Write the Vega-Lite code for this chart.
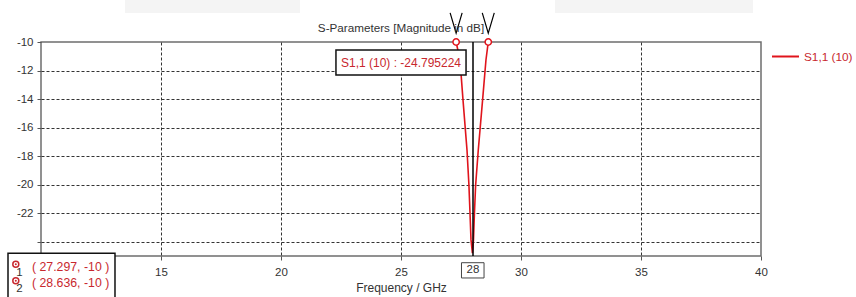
{
  "$schema": "https://vega.github.io/schema/vega-lite/v6.json",
  "width": 720,
  "height": 214,
  "autosize": "none",
  "padding": {"left": 41, "top": 42, "right": 95, "bottom": 41},
  "background": "white",
  "config": {
    "font": "Liberation Sans",
    "view": {"stroke": "#6e6e6e", "strokeWidth": 1.5},
    "axis": {
      "domain": false,
      "gridColor": "#333333",
      "gridDash": [3, 2],
      "gridWidth": 1,
      "tickColor": "#555555",
      "tickSize": 4,
      "labelColor": "#333333",
      "labelFontSize": 11.5,
      "labelOverlap": false,
      "labelFlush": false,
      "titleColor": "#333333",
      "titleFontSize": 12,
      "titleFontWeight": "normal"
    },
    "legend": {
      "orient": "right",
      "offset": 10,
      "padding": 0,
      "symbolType": "stroke",
      "symbolSize": 729,
      "symbolStrokeWidth": 2,
      "labelColor": "#c8282e",
      "labelFontSize": 11.8,
      "labelOffset": 4
    }
  },
  "datasets": {
    "curve": [
      {"f": 27.2, "db": -9.3, "s": "S1,1 (10)"},
      {"f": 27.297, "db": -10, "s": "S1,1 (10)"},
      {"f": 27.458, "db": -11.26, "s": "S1,1 (10)"},
      {"f": 27.583, "db": -14.06, "s": "S1,1 (10)"},
      {"f": 27.75, "db": -17.57, "s": "S1,1 (10)"},
      {"f": 27.83, "db": -20.02, "s": "S1,1 (10)"},
      {"f": 27.875, "db": -21.98, "s": "S1,1 (10)"},
      {"f": 27.917, "db": -23.87, "s": "S1,1 (10)"},
      {"f": 27.975, "db": -24.795, "s": "S1,1 (10)"},
      {"f": 28.02, "db": -23.87, "s": "S1,1 (10)"},
      {"f": 28.06, "db": -21.98, "s": "S1,1 (10)"},
      {"f": 28.11, "db": -20.02, "s": "S1,1 (10)"},
      {"f": 28.22, "db": -17.57, "s": "S1,1 (10)"},
      {"f": 28.4, "db": -14.06, "s": "S1,1 (10)"},
      {"f": 28.54, "db": -11.26, "s": "S1,1 (10)"},
      {"f": 28.636, "db": -10, "s": "S1,1 (10)"},
      {"f": 28.72, "db": -9.3, "s": "S1,1 (10)"}
    ],
    "markers": [
      {"f": 27.297, "db": -10, "vy": -8.67},
      {"f": 28.636, "db": -10, "vy": -8.67}
    ],
    "greybars": [
      {"x1": 13.5, "x2": 20.79, "y1": -7.0, "y2": -7.97},
      {"x1": 31.42, "x2": 39.67, "y1": -7.0, "y2": -7.97}
    ],
    "bigboxes": [
      {"x1": 22.29, "x2": 27.71, "y1": -10.56, "y2": -12.31},
      {"x1": 8.625, "x2": 13.083, "y1": -24.81, "y2": -28.5}
    ],
    "smallbox": [
      {"x1": 27.52, "x2": 28.46, "y1": -25.47, "y2": -26.54}
    ],
    "titletext": [
      {"x": 25.0, "y": -9.02, "t": "S-Parameters [Magnitude in dB]"}
    ],
    "annot": [
      {"x": 25.0, "y": -11.44, "t": "S1,1 (10) : -24.795224"}
    ],
    "coords": [
      {"x": 9.625, "y": -25.77, "t": "( 27.297, -10 )"},
      {"x": 9.625, "y": -26.87, "t": "( 28.636, -10 )"}
    ],
    "darktext": [
      {"x": 28.0, "y": -25.98, "t": "28"},
      {"x": 9.1, "y": -26.19, "t": "1"},
      {"x": 9.1, "y": -27.31, "t": "2"}
    ],
    "legsym": [
      {"x": 8.95, "y": -25.58},
      {"x": 8.95, "y": -26.73}
    ]
  },
  "layer": [
    {
      "data": {"name": "greybars"},
      "mark": {"type": "rect", "fill": "#f4f4f4", "clip": false},
      "encoding": {
        "x": {"field": "x1", "type": "quantitative", "scale": {"domain": [10, 40], "nice": false, "zero": false},
          "axis": {"values": [10, 15, 20, 25, 30, 35, 40], "tickCount": 20, "title": "Frequency / GHz", "grid": true, "labelPadding": 6, "titlePadding": 5, "labelOverlap": false,
            "gridOpacity": {"condition": {"test": "datum.value == 10 || datum.value == 40", "value": 0}, "value": 1},
            "labelExpr": "datum.value == 10 ? '' : '' + datum.value"}},
        "x2": {"field": "x2"},
        "y": {"field": "y1", "type": "quantitative", "scale": {"domain": [-25, -10], "nice": false, "zero": false},
          "axis": {"values": [-24, -22, -20, -18, -16, -14, -12, -10], "tickCount": 20, "title": null, "grid": true, "labelPadding": 4, "labelOverlap": false, "labelBound": false, "labelFlush": false,
            "gridOpacity": {"condition": {"test": "datum.value == -10", "value": 0}, "value": 1},
            "labelExpr": "datum.value == -24 ? '' : '' + datum.value"}},
        "y2": {"field": "y2"}
      }
    },
    {
      "data": {"name": "curve"},
      "mark": {"type": "line", "strokeWidth": 1.6, "clip": true},
      "encoding": {
        "x": {"field": "f", "type": "quantitative"},
        "y": {"field": "db", "type": "quantitative"},
        "color": {"field": "s", "type": "nominal", "scale": {"range": ["#e0141c"]}, "legend": {"title": null}},
        "order": {"field": "f"}
      }
    },
    {
      "data": {"values": [{"f": 28}]},
      "mark": {"type": "rule", "color": "#000000", "strokeWidth": 1.5},
      "encoding": {
        "x": {"field": "f", "type": "quantitative"}
      }
    },
    {
      "data": {"name": "markers"},
      "mark": {"type": "point", "shape": "circle", "size": 40, "fill": "white", "filled": true, "stroke": "#e0141c", "strokeWidth": 1.5, "opacity": 1, "clip": false},
      "encoding": {
        "x": {"field": "f", "type": "quantitative"},
        "y": {"field": "db", "type": "quantitative"}
      }
    },
    {
      "data": {"name": "markers"},
      "mark": {"type": "point", "shape": "M-1,-1.7L0,1.7L1,-1.7", "size": 144, "filled": false, "stroke": "#000000", "strokeWidth": 1.2, "opacity": 1, "clip": false},
      "encoding": {
        "x": {"field": "f", "type": "quantitative"},
        "y": {"field": "vy", "type": "quantitative"}
      }
    },
    {
      "data": {"name": "titletext"},
      "mark": {"type": "text", "color": "#333333", "fontSize": 11.7, "baseline": "middle", "align": "center", "clip": false},
      "encoding": {
        "x": {"field": "x", "type": "quantitative"},
        "y": {"field": "y", "type": "quantitative"},
        "text": {"field": "t"}
      }
    },
    {
      "data": {"name": "bigboxes"},
      "mark": {"type": "rect", "fill": "white", "stroke": "#111111", "strokeWidth": 1.5, "clip": false},
      "encoding": {
        "x": {"field": "x1", "type": "quantitative"},
        "x2": {"field": "x2"},
        "y": {"field": "y1", "type": "quantitative"},
        "y2": {"field": "y2"}
      }
    },
    {
      "data": {"name": "smallbox"},
      "mark": {"type": "rect", "fill": "white", "stroke": "#444444", "strokeWidth": 1, "clip": false},
      "encoding": {
        "x": {"field": "x1", "type": "quantitative"},
        "x2": {"field": "x2"},
        "y": {"field": "y1", "type": "quantitative"},
        "y2": {"field": "y2"}
      }
    },
    {
      "data": {"name": "annot"},
      "mark": {"type": "text", "color": "#c8282e", "fontSize": 12, "baseline": "middle", "align": "center", "clip": false},
      "encoding": {
        "x": {"field": "x", "type": "quantitative"},
        "y": {"field": "y", "type": "quantitative"},
        "text": {"field": "t"}
      }
    },
    {
      "data": {"name": "coords"},
      "mark": {"type": "text", "color": "#c8282e", "fontSize": 12.3, "baseline": "middle", "align": "left", "clip": false},
      "encoding": {
        "x": {"field": "x", "type": "quantitative"},
        "y": {"field": "y", "type": "quantitative"},
        "text": {"field": "t"}
      }
    },
    {
      "data": {"name": "darktext"},
      "mark": {"type": "text", "color": "#333333", "fontSize": 11.5, "baseline": "middle", "align": "center", "clip": false},
      "encoding": {
        "x": {"field": "x", "type": "quantitative"},
        "y": {"field": "y", "type": "quantitative"},
        "text": {"field": "t"}
      }
    },
    {
      "data": {"name": "legsym"},
      "mark": {"type": "point", "shape": "circle", "size": 36, "filled": false, "stroke": "#c8282e", "strokeWidth": 1.5, "opacity": 1, "clip": false},
      "encoding": {
        "x": {"field": "x", "type": "quantitative"},
        "y": {"field": "y", "type": "quantitative"}
      }
    },
    {
      "data": {"name": "legsym"},
      "mark": {"type": "point", "shape": "circle", "size": 4, "filled": true, "color": "#c8282e", "opacity": 1, "clip": false},
      "encoding": {
        "x": {"field": "x", "type": "quantitative"},
        "y": {"field": "y", "type": "quantitative"}
      }
    }
  ]
}
